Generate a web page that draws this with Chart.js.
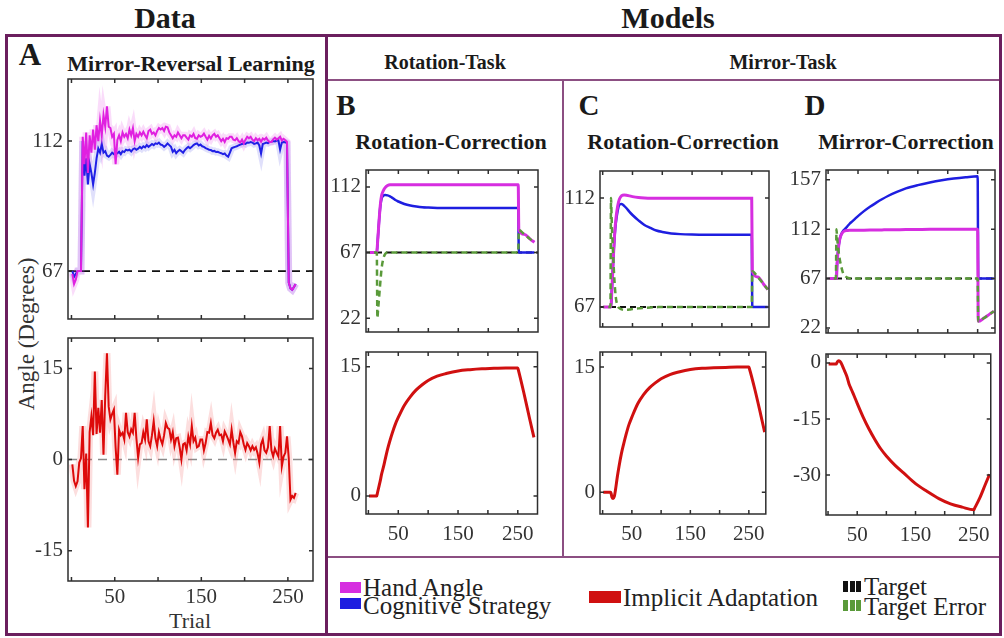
<!DOCTYPE html>
<html lang="en">
<head>
<meta charset="UTF-8">
<title>Mirror-Reversal Learning - Data and Models</title>
<script src="https://cdn.jsdelivr.net/npm/chart.js"></script>
<style>
    body { margin: 0; background: #fff; }
    #fig { position: relative; width: 1004px; height: 638px; overflow: hidden; font-family: 'Liberation Serif', serif; color: #1a1a1a; }
    .t { position: absolute; white-space: nowrap; transform: translate(-50%, -50%); line-height: 1; }
    .tl { position: absolute; white-space: nowrap; transform: translateY(-50%); line-height: 1; font-family: 'Liberation Serif', serif; font-size: 25px; color: #222; }
    .b { font-weight: bold; }
    .frame { position: absolute; background: #6b1f5e; }
    .inner { position: absolute; background: #8c4f82; }
    .sw { position: absolute; }
    canvas { position: absolute; }
</style>
</head>
<body>
<div id="fig">
    <!-- outer boxes -->
    <div class="frame" style="left:5px;top:34px;width:997px;height:3px"></div>
    <div class="frame" style="left:5px;top:633px;width:997px;height:3px"></div>
    <div class="frame" style="left:5px;top:34px;width:3px;height:602px"></div>
    <div class="frame" style="left:325px;top:34px;width:3px;height:602px"></div>
    <div class="frame" style="left:999px;top:34px;width:3px;height:602px"></div>
    <div class="inner" style="left:328px;top:79px;width:671px;height:2px"></div>
    <div class="inner" style="left:562px;top:81px;width:2px;height:476px"></div>
    <div class="inner" style="left:328px;top:556px;width:671px;height:2px"></div>

    <!-- headings -->
    <div class="t b" style="left:165px;top:18px;font-size:30px">Data</div>
    <div class="t b" style="left:668px;top:18px;font-size:30px">Models</div>
    <div class="t b" style="left:30px;top:54px;font-size:31px">A</div>
    <div class="t b" style="left:191px;top:64px;font-size:22px">Mirror-Reversal Learning</div>
    <div class="t b" style="left:445px;top:62px;font-size:20px">Rotation-Task</div>
    <div class="t b" style="left:783px;top:62px;font-size:20px">Mirror-Task</div>
    <div class="t b" style="left:346px;top:105px;font-size:29px">B</div>
    <div class="t b" style="left:589px;top:105px;font-size:29px">C</div>
    <div class="t b" style="left:815px;top:105px;font-size:29px">D</div>
    <div class="t b" style="left:451px;top:142px;font-size:22px">Rotation-Correction</div>
    <div class="t b" style="left:683px;top:142px;font-size:22px">Rotation-Correction</div>
    <div class="t b" style="left:906px;top:142px;font-size:22px">Mirror-Correction</div>
    <div class="t" style="left:26px;top:334px;font-size:23px;color:#333;transform:translate(-50%,-50%) rotate(-90deg)">Angle (Degrees)</div>
    <div class="t" style="left:190px;top:621px;font-size:22px;color:#333">Trial</div>

    <!-- legend -->
    <div class="sw" style="left:340px;top:582px;width:21px;height:11px;background:#d62ee0"></div>
    <div class="tl" style="left:363px;top:587px">Hand Angle</div>
    <div class="sw" style="left:340px;top:598px;width:21px;height:11px;background:#1e1ee0"></div>
    <div class="tl" style="left:363px;top:605px">Cognitive Strategy</div>
    <div class="sw" style="left:589px;top:591px;width:32px;height:12px;background:#d01010"></div>
    <div class="tl" style="left:623px;top:597px">Implicit Adaptation</div>
    <div class="sw" style="left:843px;top:581px;width:18px;height:11px;background:repeating-linear-gradient(90deg,#111 0 5px,#fff 5px 6.5px)"></div>
    <div class="tl" style="left:864px;top:586px">Target</div>
    <div class="sw" style="left:843px;top:600px;width:18px;height:11px;background:repeating-linear-gradient(90deg,#5a9a3a 0 5px,#fff 5px 6.5px)"></div>
    <div class="tl" style="left:864px;top:606px">Target Error</div>
</div>

<script>
    // ---- data (panel A): every second trial ----
    const dataTrials = [1,3,5,7,9,11,13,15,17,19,21,23,25,27,29,31,33,35,37,39,
        41,43,45,47,49,51,53,55,57,59,61,63,65,67,69,71,73,75,77,79,
        81,83,85,87,89,91,93,95,97,99,101,103,105,107,109,111,113,115,117,119,
        121,123,125,127,129,131,133,135,137,139,141,143,145,147,149,151,153,155,157,159,
        161,163,165,167,169,171,173,175,177,179,181,183,185,187,189,191,193,195,197,199,
        201,203,205,207,209,211,213,215,217,219,221,223,225,227,229,231,233,235,237,239,
        241,243,245,247,249,251,253,255,257,259];

    const dataHand = [66, 62.5, 64, 67, 67, 67, 113.5, 104, 115, 101,
        114, 108, 116, 109, 117.5, 112, 119, 114, 121, 117,
        124, 117, 116.5, 113.5, 114.5, 104, 112.4, 114, 112, 115,
        113.5, 114.5, 113, 116, 114, 116.5, 112, 114.5, 113.5, 115,
        114, 115.2, 114, 113, 115.5, 116, 114.5, 115, 114, 115.5,
        116.5, 116, 116.5, 115.5, 117, 116.8, 115, 114, 113, 114,
        113.5, 115, 114, 113, 114, 114, 113.2, 112.5, 114, 113.5,
        114.5, 113, 112.8, 114, 113.5, 113.8, 114.6, 113.5, 112.5, 113.8,
        112.9, 114, 114.5, 113.5, 114, 113, 112, 112.8, 111.7, 113,
        112.8, 113.5, 113.5, 112.5, 112.3, 113, 112, 111.5, 112.5, 111.2,
        112.5, 113.5, 113, 113.5, 112.5, 112, 113, 112.3, 112.8, 111.8,
        112.9, 112.5, 113.2, 112.2, 111.7, 111.7, 112.6, 113.2, 112.5, 112.9,
        113.5, 112.2, 112.8, 112.3, 111.7, 63, 61, 60.5, 61.5, 62.5];

    const dataStrategy = [67, 65, 66, 67, 67, 67, 112, 100, 106, 97,
        104, 101, 97, 101, 106, 109.4, 108, 111, 108, 108.5,
        107, 106.6, 107.2, 108, 107.5, 108.2, 107.8, 108.3, 107.5, 108.5,
        108.2, 109, 108.8, 109, 108.4, 109.2, 109.5, 109, 109.4, 110,
        109.5, 110.2, 109.8, 110.6, 110, 110.5, 111, 110.6, 111.2, 111,
        111.5, 110.8, 110.6, 110, 110.5, 111.2, 110.6, 110, 108.3, 109,
        107.8, 108.5, 109, 108.5, 108, 108.9, 109.5, 110, 109.5, 110,
        110.6, 111, 111.2, 110.5, 110.8, 110.2, 110, 109.6, 109.3, 109,
        108.9, 108.5, 108.6, 108.2, 108.3, 108, 107.8, 107.5, 107.7, 107,
        106.6, 108, 109.5, 109.8, 110, 110.2, 110.5, 110.8, 111, 111.2,
        111, 111.5, 111.4, 111.7, 111.5, 111, 111.2, 111.5, 110.5, 107.7,
        111, 111.2, 111.5, 111.3, 111.7, 111.8, 112, 111.9, 112.2, 112.3,
        109, 111.5, 111.7, 111.6, 111.2, 63, 61, 60.5, 61.5, 62.5];

    const dataImplicit = [-0.8, -3.5, -4.4, -3.6, -0.5, 0.2, 5.5, -4.9, 1.0, -11.2,
        4.5, 7.1, 4.0, 14.5, 4.2, 8.5, 4.4, 9.8, 0.8, 10.5,
        17.5, 8.7, 6.6, 7.5, 8.2, 2.0, -2.5, 4.9, 4.0, 4.4,
        3.3, 7.7, 4.5, 3.8, 5.0, 4.4, 7.7, 3.5, 0.3, 2.5,
        2.7, 4.5, 3.3, 6.6, 3.0, 2.2, 4.0, 6.3, 3.5, 2.2,
        4.5, 3.3, 2.5, 4.0, 6.0, 5.2, 5.0, 3.3, 4.5, 2.2,
        3.5, 3.6, 2.0, 0.0, 2.5, 2.7, 1.5, 3.8, 2.5, 5.5,
        3.0, 3.6, 2.0, 2.2, 3.3, 3.3, 1.5, 2.7, 4.5, 4.4,
        6.0, 4.0, 3.5, 4.4, 4.9, 4.0, 4.1, 3.0, 4.6, 4.0,
        3.3, 2.5, 4.9, 2.8, 1.1, 3.0, 2.7, 4.5, 3.8, 2.5,
        1.6, 2.7, 2.2, 1.5, 2.2, 1.6, 2.0, 1.0, -0.5, 2.5,
        3.3, 1.5, 1.1, 2.0, 5.5, 1.5, 0.5, 1.8, 1.1, 0.5,
        5.5, -1.1, 0.5, 1.1, 3.8, 0.2, -6.6, -6.0, -6.3, -5.5];

    // ---- models (panels B, C, D) ----
    const modelTrials = [1, 13, 14, 15, 16, 18, 20, 22, 25, 28,
        32, 36, 40, 45, 50, 60, 70, 80, 90, 100,
        115, 130, 150, 170, 190, 210, 230, 250,
        251, 260, 270, 277];

    const bHand = [67, 67, 67, 72, 78, 90, 100, 106, 109.5, 111.5,
        113, 113.5, 113.5, 113.5, 113.5, 113.5, 113.5, 113.5, 113.5, 113.5,
        113.5, 113.5, 113.5, 113.5, 113.5, 113.5, 113.5, 113.5,
        82.5, 79.5, 76.2, 74];
    const bStrategy = [null, 67, 67, 72, 78, 90, 99, 104, 106, 106.5,
        106.2, 105.5, 104.5, 103, 102, 100.3, 99.2, 98.5, 98, 97.8,
        97.6, 97.5, 97.5, 97.5, 97.5, 97.5, 97.5, 97.5,
        67, 67, 67, 67];
    const bError = [67, 67, 67, 22, 27, 37, 47, 56, 63, 66,
        67, 67, 67, 67, 67, 67, 67, 67, 67, 67,
        67, 67, 67, 67, 67, 67, 67, 67,
        82.5, 79.5, 76.2, 74];
    const bImplicit = [0, 0, 0, 0.3, 0.6, 1.2, 1.8, 2.5, 3.3, 4.2,
        5.4, 6.4, 7.3, 8.3, 9.1, 10.5, 11.5, 12.3, 12.9, 13.4,
        13.9, 14.2, 14.5, 14.65, 14.75, 14.8, 14.85, 14.85,
        14.6, 12.0, 8.9, 6.8];

    const cHand = [67, 67, 67, 72, 77, 88, 97, 103, 108.5, 111.5,
        113, 113.3, 113.2, 112.9, 112.6, 112.2, 112, 111.9, 111.9, 111.9,
        111.9, 111.9, 111.9, 111.9, 111.9, 111.9, 111.9, 111.9,
        81.8, 79.4, 76.4, 74.2];
    const cStrategy = [null, 67, 67, 72, 77, 88, 96, 101.5, 106.5, 109.3,
        109.6, 108.8, 107.8, 106.3, 105, 102.8, 100.9, 99.7, 98.6, 98,
        97.4, 97.1, 96.9, 96.8, 96.8, 96.8, 96.8, 96.8,
        67, 67, 67, 67];
    const cError = [67, 67, 112, 104, 97, 86, 77, 71, 67.5, 66.5,
        66, 65.8, 65.8, 65.9, 66.1, 66.4, 66.6, 66.8, 66.9, 67,
        67, 67, 67, 67, 67, 67, 67, 67,
        81.8, 79.4, 76.4, 74.2];
    const cImplicit = [0, 0, 0, -0.3, -0.6, -0.75, -0.5, 0.3, 1.8, 3.1,
        4.6, 5.8, 6.9, 8.1, 9.0, 10.6, 11.7, 12.5, 13.1, 13.6,
        14.1, 14.4, 14.7, 14.85, 14.9, 14.95, 15.0, 15.0,
        14.8, 12.4, 9.4, 7.2];

    const dHand = [67, 67, 67, 80, 88, 98, 104, 107, 109.5, 110.5,
        110.8, 111, 111, 111, 111, 111.1, 111.2, 111.3, 111.4, 111.5,
        111.6, 111.7, 111.8, 111.9, 111.9, 112, 112, 112,
        28, 30.8, 34.6, 37.2];
    const dStrategy = [null, 67, 67, 80, 88, 98, 104, 107.5, 110.5, 112,
        114.5, 117, 119, 121.5, 124, 128.5, 132.5, 136, 139.3, 142.3,
        146, 149.2, 152.2, 154.6, 156.6, 158.2, 159.4, 160.3,
        67, 67, 67, 67];
    const dError = [67, 67, 112, 105, 99, 90, 83, 78, 72, 69.5,
        68, 67.3, 67, 67, 67, 67, 67, 67, 67, 67,
        67, 67, 67, 67, 67, 67, 67, 67,
        28, 30.8, 34.6, 37.2];
    const dImplicit = [-0.3, -0.3, -0.3, 0, 0.3, 0.6, 0.5, 0.1, -0.9, -2.0,
        -3.5, -5.6, -7.1, -8.9, -10.8, -14.4, -17.6, -20.4, -22.9, -24.9,
        -27.4, -29.5, -32.3, -34.4, -36.3, -37.7, -38.6, -39.3,
        -39.0, -36.2, -32.4, -29.8];

    const targetAngle = 67;
    const xTicks = [0, 50, 100, 150, 200, 250];
    const xLabeled = [50, 150, 250];

    const HAND = '#d62ee0', STRAT = '#1e1ee0', IMPL = '#d01010', GREEN = '#5a9a3a';

    Chart.defaults.font.family = "'Liberation Serif', serif";
    Chart.defaults.font.size = 21;
    Chart.defaults.color = '#333';

    // box with inward tick marks on all four sides (MATLAB style)
    const framePlugin = {
        id: 'frame',
        afterDraw(chart) {
            const { ctx, chartArea: a, scales: { x, y } } = chart;
            ctx.save();
            ctx.strokeStyle = '#2e2e2e';
            ctx.lineWidth = 1.5;
            ctx.strokeRect(a.left, a.top, a.right - a.left, a.bottom - a.top);
            ctx.beginPath();
            x.ticks.forEach(t => {
                const px = x.getPixelForValue(t.value);
                ctx.moveTo(px, a.bottom); ctx.lineTo(px, a.bottom - 4);
                ctx.moveTo(px, a.top); ctx.lineTo(px, a.top + 4);
            });
            y.ticks.forEach(t => {
                const py = y.getPixelForValue(t.value);
                ctx.moveTo(a.left, py); ctx.lineTo(a.left + 4, py);
                ctx.moveTo(a.right, py); ctx.lineTo(a.right - 4, py);
            });
            ctx.stroke();
            ctx.restore();
        }
    };

    function series(trials, values, color, width, extra) {
        return Object.assign({
            data: trials.map((t, i) => ({ x: t, y: values[i] })),
            borderColor: color,
            borderWidth: width,
            pointRadius: 0,
            fill: false,
            tension: 0
        }, extra || {});
    }

    function flat(value, range, color, width, dash, extra) {
        return series(range, range.map(() => value), color, width, Object.assign({ borderDash: dash }, extra || {}));
    }

    const fig = document.getElementById('fig');

    function panel(box, xRange, yRange, yTicks, xPad, datasets) {
        const padL = 52, padR = 4, padT = 20;
        const padB = xPad === null ? 20 : 38;
        const [x0, y0, x1, y1] = box;
        const w = x1 - x0 + padL + padR, h = y1 - y0 + padT + padB;
        const c = document.createElement('canvas');
        c.width = w; c.height = h;
        c.style.left = (x0 - padL) + 'px';
        c.style.top = (y0 - padT) + 'px';
        c.style.width = w + 'px';
        c.style.height = h + 'px';
        fig.appendChild(c);

        return new Chart(c, {
            type: 'line',
            data: { datasets: datasets },
            options: {
                responsive: false,
                animation: false,
                devicePixelRatio: 1,
                layout: { padding: { top: padT, right: padR, left: 0, bottom: 0 } },
                plugins: { legend: { display: false }, tooltip: { enabled: false } },
                scales: {
                    x: {
                        type: 'linear',
                        min: xRange[0], max: xRange[1],
                        afterBuildTicks: s => { s.ticks = xTicks.map(v => ({ value: v })); },
                        afterFit: s => { s.height = padB; },
                        ticks: {
                            autoSkip: false, maxRotation: 0,
                            padding: xPad === null ? 0 : xPad,
                            callback: v => (xPad !== null && xLabeled.includes(v)) ? String(v) : ''
                        },
                        grid: { display: false, drawTicks: false },
                        border: { display: false }
                    },
                    y: {
                        min: yRange[0], max: yRange[1],
                        afterBuildTicks: s => { s.ticks = yTicks.map(v => ({ value: v })); },
                        afterFit: s => { s.width = padL; },
                        ticks: { autoSkip: false, padding: 5, callback: v => String(v) },
                        grid: { display: false, drawTicks: false },
                        border: { display: false }
                    }
                }
            },
            plugins: [framePlugin]
        });
    }

    function modelTop(hand, strat, err, xRange) {
        const smooth = { cubicInterpolationMode: 'monotone' };
        return [
            series(modelTrials, err, GREEN, 2.5, Object.assign({ borderDash: [6, 4], borderDashOffset: 5, order: 0 }, smooth)),
            series(modelTrials, hand, HAND, 3, Object.assign({ order: 1 }, smooth)),
            series(modelTrials, strat, STRAT, 2.5, Object.assign({ order: 2 }, smooth)),
            flat(targetAngle, xRange, '#111', 2, [6, 4], { order: 3 })
        ];
    }

    function modelBottom(impl) {
        return [series(modelTrials, impl, IMPL, 3, { cubicInterpolationMode: 'monotone' })];
    }

    // Panel A
    const aX = [-4, 279];
    panel([68, 79, 313, 319], aX, [50.4, 133.5], [67, 112], null, [
        series(dataTrials, dataHand, '#e020e0', 2, { order: 0 }),
        series(dataTrials, dataStrategy, '#2020e6', 2, { order: 1 }),
        series(dataTrials, dataHand, 'rgba(230,60,230,0.18)', 7, { order: 2 }),
        series(dataTrials, dataStrategy, 'rgba(60,60,230,0.16)', 7, { order: 3 }),
        flat(targetAngle, aX, '#111', 1.8, [8, 6], { order: 4 })
    ]);
    panel([68, 338, 313, 581], aX, [-20, 20], [-15, 0, 15], 4, [
        series(dataTrials, dataImplicit, '#dd0a0a', 2, { order: 0 }),
        series(dataTrials, dataImplicit, 'rgba(240,90,90,0.2)', 7, { order: 1 }),
        flat(0, aX, '#8a8a8a', 1.5, [9, 6], { order: 2 })
    ]);

    // Panel B
    const bX = [-4, 283];
    panel([366, 170, 538, 332], bX, [12.5, 123.6], [22, 67, 112], null, modelTop(bHand, bStrategy, bError, bX));
    panel([366, 352, 538, 514], bX, [-2.1, 16.7], [0, 15], 8, modelBottom(bImplicit));

    // Panel C
    const cX = [-4.5, 279];
    panel([600, 171, 769, 327], cX, [58.7, 123.2], [67, 112], null, modelTop(cHand, cStrategy, cError, cX));
    panel([600, 352, 769, 514], cX, [-2.6, 16.8], [0, 15], 8, modelBottom(cImplicit));

    // Panel D
    const dX = [-3.5, 279];
    panel([826, 170, 995, 333], dX, [17.4, 166], [22, 67, 112, 157], null, modelTop(dHand, dStrategy, dError, dX));
    panel([826, 354, 994, 515], dX, [-40.7, 2.4], [-30, -15, 0], 8, modelBottom(dImplicit));
</script>
</body>
</html>
